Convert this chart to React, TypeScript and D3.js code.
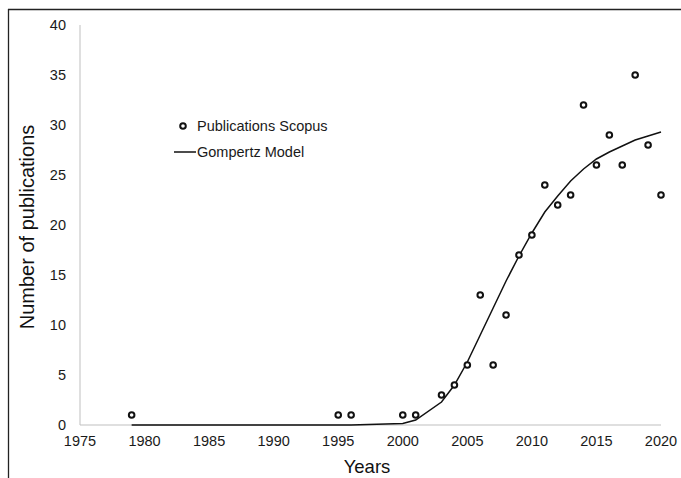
import React, { useEffect, useRef } from "react";
import * as d3 from "d3";

const years = [1979, 1995, 1996, 2000, 2001, 2003, 2004, 2005, 2006, 2007, 2008, 2009, 2010, 2011, 2012, 2013, 2014, 2015, 2016, 2017, 2018, 2019, 2020];
const publications = [1, 1, 1, 1, 1, 3, 4, 6, 13, 6, 11, 17, 19, 24, 22, 23, 32, 26, 29, 26, 35, 28, 23];
const gompertz = [0, 0, 0, 0.15, 0.5, 2.3, 4.0, 6.3, 9.0, 11.7, 14.4, 16.9, 19.2, 21.3, 22.9, 24.4, 25.6, 26.6, 27.3, 27.9, 28.5, 28.9, 29.3];
const xTicks = [1975, 1980, 1985, 1990, 1995, 2000, 2005, 2010, 2015, 2020];
const yTicks = [0, 5, 10, 15, 20, 25, 30, 35, 40];
const legendLabels = ["Publications Scopus", "Gompertz Model"];

const W = 681;
const H = 478;

export default function App() {
  const ref = useRef<SVGSVGElement>(null);
  useEffect(() => {
    const svg = d3.select(ref.current);
    svg.selectAll("*").remove();
    const font = "'Liberation Sans', Arial, sans-serif";
    const x = d3.scaleLinear().domain([1975, 2020]).range([80, 661]);
    const y = d3.scaleLinear().domain([0, 40]).range([425, 25]);

    // frame border (top & left)
    svg.append("line").attr("x1", 8.5).attr("x2", 8.5).attr("y1", 9).attr("y2", H).attr("stroke", "#222").attr("stroke-width", 1.3);
    svg.append("line").attr("x1", 8).attr("x2", W).attr("y1", 9.5).attr("y2", 9.5).attr("stroke", "#222").attr("stroke-width", 1.3);

    // axes lines
    svg.append("line").attr("x1", x(1975)).attr("x2", x(1975)).attr("y1", y(40)).attr("y2", y(0)).attr("stroke", "#bfbfbf").attr("stroke-width", 1);
    svg.append("line").attr("x1", x(1975)).attr("x2", x(2020)).attr("y1", y(0)).attr("y2", y(0)).attr("stroke", "#bfbfbf").attr("stroke-width", 1);

    // y tick labels
    svg.append("g").selectAll("text").data(yTicks).join("text")
      .attr("x", 66).attr("y", (d) => y(d)).attr("dy", "0.35em")
      .attr("text-anchor", "end").attr("font-family", font).attr("font-size", 14.5).attr("fill", "#1a1a1a")
      .text((d) => String(d));

    // x tick labels
    svg.append("g").selectAll("text").data(xTicks).join("text")
      .attr("x", (d) => x(d)).attr("y", 446)
      .attr("text-anchor", "middle").attr("font-family", font).attr("font-size", 14.5).attr("fill", "#1a1a1a")
      .text((d) => String(d));

    // axis titles
    svg.append("text").attr("x", 367).attr("y", 473).attr("text-anchor", "middle")
      .attr("font-family", font).attr("font-size", 18.5).attr("fill", "#111").text("Years");
    svg.append("text").attr("transform", `translate(34,${227}) rotate(-90)`).attr("text-anchor", "middle")
      .attr("font-family", font).attr("font-size", 20).attr("fill", "#111").text("Number of publications");

    // model line
    const line = d3.line<number>().x((_, i) => x(years[i])).y((d) => y(d));
    svg.append("path").attr("d", line(gompertz) || "").attr("fill", "none").attr("stroke", "#111").attr("stroke-width", 1.5);

    // points
    svg.append("g").selectAll("circle").data(publications).join("circle")
      .attr("cx", (_, i) => x(years[i])).attr("cy", (d) => y(d)).attr("r", 2.8)
      .attr("fill", "white").attr("stroke", "#111").attr("stroke-width", 2);

    // legend
    const lg = svg.append("g");
    lg.append("circle").attr("cx", 183).attr("cy", 126).attr("r", 2.8).attr("fill", "white").attr("stroke", "#111").attr("stroke-width", 2);
    lg.append("text").attr("x", 197).attr("y", 126).attr("dy", "0.35em").attr("font-family", font).attr("font-size", 14.5).attr("fill", "#1a1a1a").text(legendLabels[0]);
    lg.append("line").attr("x1", 174).attr("x2", 196).attr("y1", 152).attr("y2", 152).attr("stroke", "#111").attr("stroke-width", 1.5);
    lg.append("text").attr("x", 197).attr("y", 152).attr("dy", "0.35em").attr("font-family", font).attr("font-size", 14.5).attr("fill", "#1a1a1a").text(legendLabels[1]);
  }, []);
  return (
    <svg ref={ref} width={W} height={H} style={{ position: "absolute", left: 0, top: 0, background: "white" }} />
  );
}
